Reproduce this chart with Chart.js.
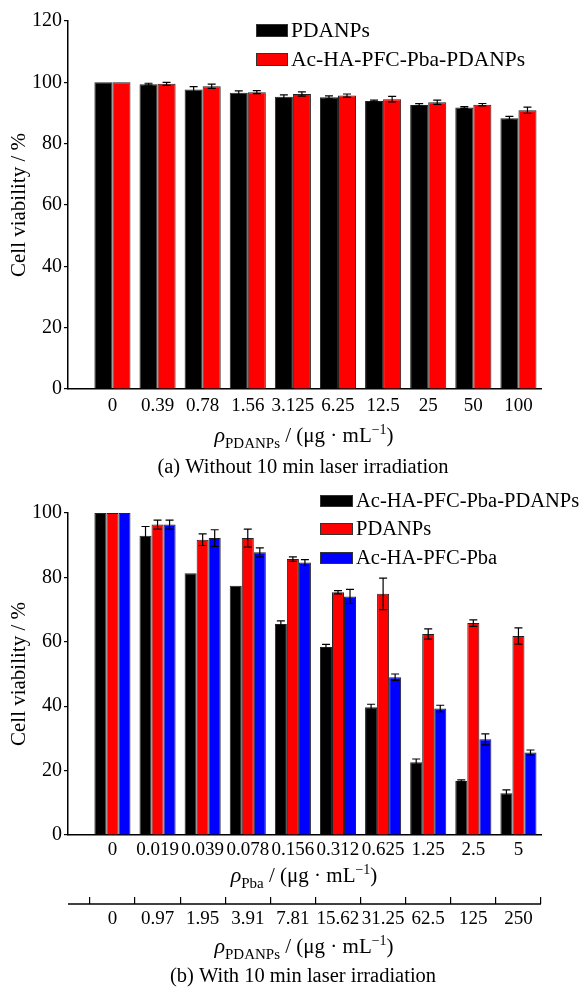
<!DOCTYPE html>
<html>
<head>
<meta charset="utf-8">
<script src="https://cdn.jsdelivr.net/npm/chart.js@4.4.0/dist/chart.umd.min.js"></script>
<style>
  html, body { margin: 0; padding: 0; background: #fff; }
  #wrap { position: relative; width: 581px; height: 987px; }
  #boxA { position: absolute; left: 0; top: 0; width: 581px; height: 480px; }
  #boxB { position: absolute; left: 0; top: 480px; width: 581px; height: 507px; }
</style>
</head>
<body>
<div id="wrap">
  <div id="boxA"><canvas id="chartA"></canvas></div>
  <div id="boxB"><canvas id="chartB"></canvas></div>
</div>
<script>
// (a) without laser
const concA = ['0', '0.39', '0.78', '1.56', '3.125', '6.25', '12.5', '25', '50', '100'];
const pdanpsA    = [100, 99.4, 97.7, 96.6, 95.3, 95.1, 93.9, 92.6, 91.8, 88.3];
const pdanpsAErr = [0, 0.3, 0.9, 0.6, 0.6, 0.5, 0.3, 0.45, 0.3, 0.6];
const acA        = [100, 99.5, 98.7, 96.8, 96.2, 95.7, 94.5, 93.5, 92.7, 90.9];
const acAErr     = [0, 0.5, 0.7, 0.5, 0.7, 0.5, 0.9, 0.7, 0.4, 1.0];

// (b) with laser
const pbaB    = ['0', '0.019', '0.039', '0.078', '0.156', '0.312', '0.625', '1.25', '2.5', '5'];
const pdanpsB = ['0', '0.97', '1.95', '3.91', '7.81', '15.62', '31.25', '62.5', '125', '250'];
const acPdB      = [100, 92.9, 81.3, 77.4, 65.5, 58.4, 39.7, 22.6, 16.8, 13.0];
const acPdBErr   = [0, 2.9, 0, 0, 1.0, 0.8, 0.9, 1.0, 0.3, 1.0];
const pdB        = [100, 96.4, 91.7, 92.2, 85.7, 75.4, 74.9, 62.4, 65.8, 61.8];
const pdBErr     = [0, 1.4, 1.8, 2.8, 0.7, 0.5, 4.9, 1.6, 1.0, 2.5];
const acPbaB     = [100, 96.4, 92.2, 87.8, 84.6, 74.1, 49.0, 39.3, 29.7, 25.6];
const acPbaBErr  = [0, 1.4, 2.6, 1.4, 0.9, 2.2, 1.0, 1.0, 1.7, 0.8];

const FONT = "'Liberation Serif', 'Times New Roman', serif";
Chart.defaults.font.family = FONT;
Chart.defaults.font.size = 20;
Chart.defaults.color = '#000';
Chart.defaults.animation = false;

const pts = arr => arr.map((v, i) => ({ x: i, y: v }));

const errorBars = {
  id: 'errorBars',
  afterDatasetsDraw(chart) {
    const ctx = chart.ctx, ys = chart.scales.y;
    chart.data.datasets.forEach((ds, i) => {
      if (!ds.errors) return;
      chart.getDatasetMeta(i).data.forEach((bar, j) => {
        const e = ds.errors[j];
        if (!e) return;
        const v = ds.data[j].y;
        const t = ys.getPixelForValue(v + e), b = ys.getPixelForValue(v - e);
        ctx.save();
        ctx.strokeStyle = '#000';
        ctx.lineWidth = 1.2;
        ctx.beginPath();
        ctx.moveTo(bar.x, t); ctx.lineTo(bar.x, b);
        ctx.moveTo(bar.x - 4, t); ctx.lineTo(bar.x + 4, t);
        ctx.moveTo(bar.x - 4, b); ctx.lineTo(bar.x + 4, b);
        ctx.stroke();
        ctx.restore();
      });
    });
  }
};

// legend boxes + titles, drawn by hand
const decor = {
  id: 'decor',
  afterDraw(chart, args, o) {
    const ctx = chart.ctx;
    ctx.save();
    // legend
    chart.data.datasets.forEach((ds, i) => {
      const y = o.legY[i];
      ctx.fillStyle = ds.backgroundColor;
      ctx.fillRect(o.legX, y, o.boxW, o.boxH);
      ctx.strokeStyle = '#333';
      ctx.lineWidth = 1;
      ctx.strokeRect(o.legX + 0.5, y + 0.5, o.boxW - 1, o.boxH - 1);
      ctx.fillStyle = '#000';
      ctx.font = o.legFont + 'px ' + FONT;
      ctx.textBaseline = 'middle';
      ctx.textAlign = 'left';
      ctx.fillText(ds.label, o.legX + o.boxW + 3, y + o.boxH / 2 + 1);
    });
    // y title
    const ca = chart.chartArea;
    ctx.save();
    ctx.translate(19, (ca.top + ca.bottom) / 2);
    ctx.rotate(-Math.PI / 2);
    ctx.font = '21px ' + FONT;
    ctx.textAlign = 'center';
    ctx.textBaseline = 'middle';
    ctx.fillText('Cell viability / %', 0, 0);
    ctx.restore();
    // x titles
    o.titles.forEach(t => richText(ctx, t.sub, 304, t.y));
    ctx.font = '20.5px ' + FONT;
    ctx.textAlign = 'center';
    ctx.textBaseline = 'alphabetic';
    ctx.fillText(o.caption, 303, o.capY);
    // secondary axis line
    if (chart.scales.x2) {
      const s = chart.scales.x2;
      ctx.strokeStyle = '#000';
      ctx.lineWidth = 1.5;
      ctx.beginPath();
      ctx.moveTo(s.left, s.top + 7);
      ctx.lineTo(s.right, s.top + 7);
      ctx.stroke();
    }
    ctx.restore();
  }
};

function richText(ctx, sub, cx, y) {
  const parts = [
    ['ρ', 'italic 22px ' + FONT, 0],
    [sub, '15px ' + FONT, 6],
    [' / (μg · mL', '21px ' + FONT, 0],
    ['−1', '14px ' + FONT, -8],
    [')', '21px ' + FONT, 0]
  ];
  let w = 0;
  parts.forEach(p => { ctx.font = p[1]; w += ctx.measureText(p[0]).width; });
  let x = cx - w / 2;
  ctx.textAlign = 'left';
  ctx.textBaseline = 'alphabetic';
  ctx.fillStyle = '#000';
  parts.forEach(p => { ctx.font = p[1]; ctx.fillText(p[0], x, y + p[2]); x += ctx.measureText(p[0]).width; });
}

function xAxis(labels, h, pad, extra) {
  return Object.assign({
    type: 'linear',
    offset: false,
    min: -0.985,
    max: 9.5,
    afterBuildTicks: s => { s.ticks = labels.map((_, i) => ({ value: i })); },
    afterFit: s => { s.height = h; },
    grid: { display: false, drawTicks: false },
    border: { display: true, color: '#000', width: 1.5 },
    ticks: { autoSkip: false, maxRotation: 0, padding: pad, font: { size: 19 }, callback: v => labels[v] }
  }, extra || {});
}

function yAxis(max) {
  return {
    min: 0,
    max: max,
    afterFit: s => { s.width = 68; },
    grid: { drawOnChartArea: false, drawTicks: true, tickLength: 4, color: '#000', lineWidth: 1.2 },
    border: { display: true, color: '#000', width: 1.5 },
    ticks: { stepSize: 20, padding: 2 }
  };
}

const barOpts = { borderColor: '#222', borderWidth: 1, categoryPercentage: 0.8, barPercentage: 1.0 };

new Chart(document.getElementById('chartA'), {
  type: 'bar',
  data: {
    datasets: [
      Object.assign({ label: 'PDANPs', data: pts(pdanpsA), errors: pdanpsAErr, backgroundColor: '#000000' }, barOpts),
      Object.assign({ label: 'Ac-HA-PFC-Pba-PDANPs', data: pts(acA), errors: acAErr, backgroundColor: '#ff0000' }, barOpts)
    ]
  },
  options: {
    responsive: true,
    maintainAspectRatio: false,
    layout: { padding: { top: 21, right: 40, bottom: 61, left: 0 } },
    scales: { x: xAxis(concA, 30, 6), y: yAxis(120) },
    plugins: {
      legend: { display: false },
      tooltip: { enabled: false },
      decor: {
        legX: 256, legY: [24, 53], boxW: 32, boxH: 13, legFont: 21.5,
        titles: [{ sub: 'PDANPs', y: 442 }],
        caption: '(a) Without 10 min laser irradiation', capY: 473
      }
    }
  },
  plugins: [errorBars, decor]
});

new Chart(document.getElementById('chartB'), {
  type: 'bar',
  data: {
    datasets: [
      Object.assign({ label: 'Ac-HA-PFC-Pba-PDANPs', data: pts(acPdB), errors: acPdBErr, backgroundColor: '#000000' }, barOpts),
      Object.assign({ label: 'PDANPs', data: pts(pdB), errors: pdBErr, backgroundColor: '#ff0000' }, barOpts),
      Object.assign({ label: 'Ac-HA-PFC-Pba', data: pts(acPbaB), errors: acPbaBErr, backgroundColor: '#0000ff' }, barOpts)
    ]
  },
  options: {
    responsive: true,
    maintainAspectRatio: false,
    layout: { padding: { top: 33, right: 40, bottom: 55, left: 0 } },
    scales: {
      x: xAxis(pbaB, 62, 4),
      x2: xAxis(pdanpsB, 35, 4, {
        position: 'bottom',
        weight: 1,
        grid: { display: true, drawOnChartArea: false, drawTicks: true, tickLength: 7, color: '#000', lineWidth: 1.2 },
        border: { display: false }
      }),
      y: yAxis(100)
    },
    plugins: {
      legend: { display: false },
      tooltip: { enabled: false },
      decor: {
        legX: 320, legY: [15, 43, 72], boxW: 33, boxH: 12, legFont: 20.5,
        titles: [{ sub: 'Pba', y: 402 }, { sub: 'PDANPs', y: 473 }],
        caption: '(b) With 10 min laser irradiation', capY: 502
      }
    }
  },
  plugins: [errorBars, decor]
});
</script>
</body>
</html>
